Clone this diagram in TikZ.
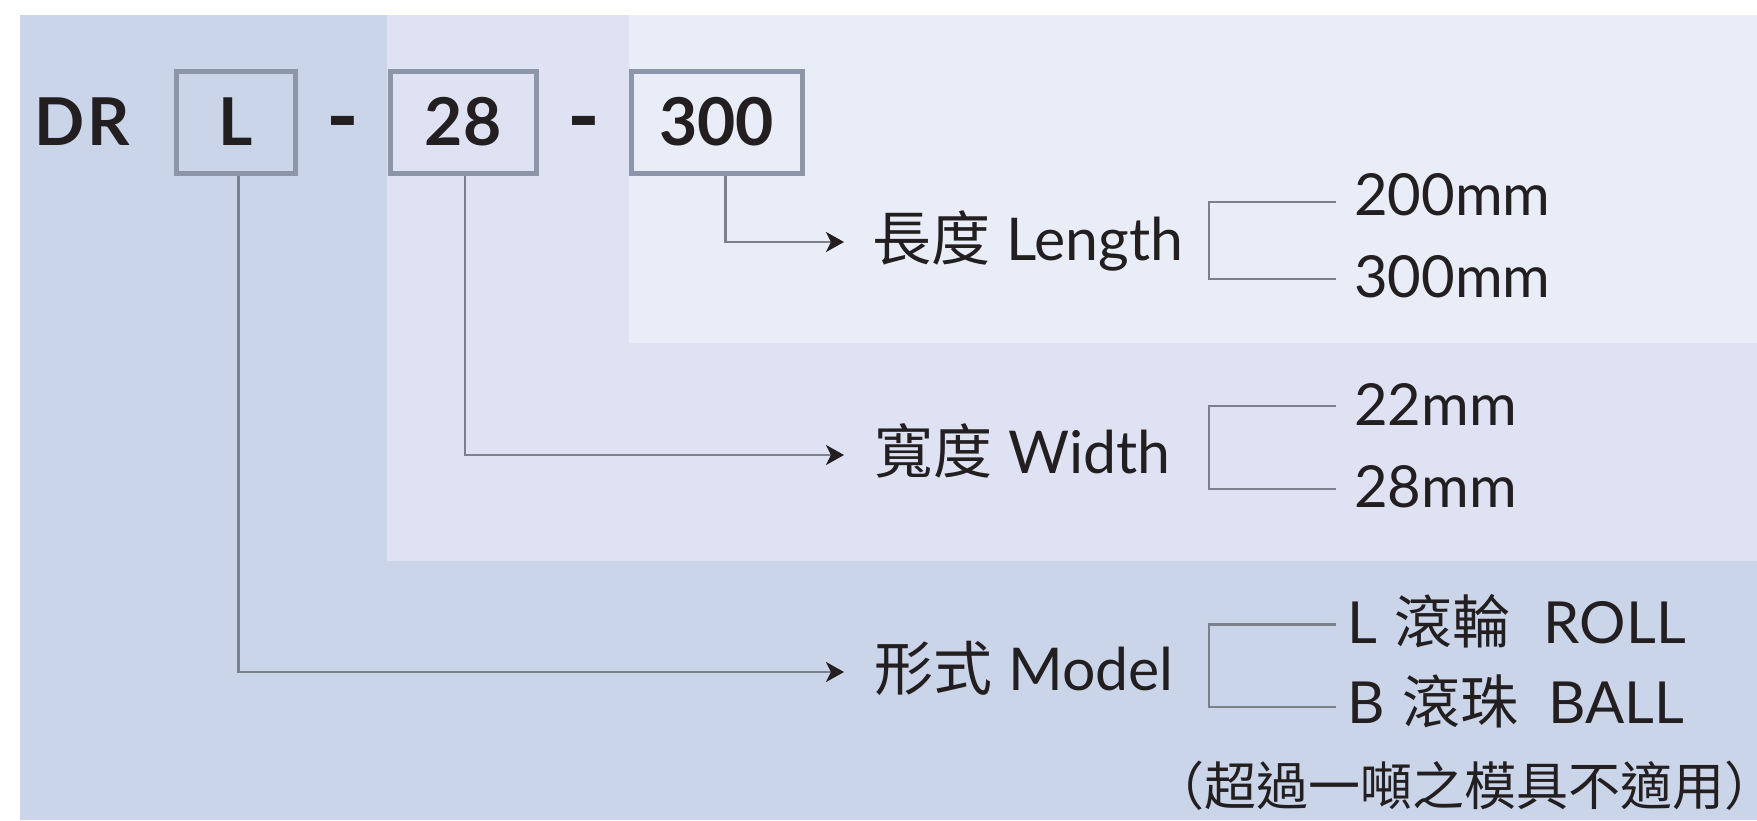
\documentclass[tikz,border=0pt]{standalone}
\usepackage{fontspec}
\setmainfont{Lato}
\newfontfamily\cjk{Noto Sans CJK TC}
\usepackage{xcolor}
\usepackage{tikz}
\usetikzlibrary{arrows.meta,positioning,calc}

\definecolor{bgouter}{HTML}{CAD5E9}
\definecolor{bgmiddle}{HTML}{DEE2F2}
\definecolor{bginner}{HTML}{E9EDF8}
\definecolor{boxgray}{HTML}{8C96A8}
\definecolor{linkgray}{HTML}{7B808D}
\definecolor{inkblack}{HTML}{231F20}

\begin{document}
\begin{tikzpicture}[
    x=1pt, y=-1pt,
    node distance=90pt,
    codebox/.style={rectangle, draw=boxgray, line width=5pt, inner sep=0pt, minimum height=102pt, text=inkblack, font=\fontsize{66}{70}\selectfont\bfseries},
    codetext/.style={inner sep=0pt, anchor=base west, text=inkblack, font=\fontsize{66}{70}\selectfont\bfseries},
    dashmark/.style={inner sep=0pt, anchor=base, text=inkblack, font=\fontsize{88}{92}\selectfont\bfseries},
    itemlabel/.style={inner sep=0pt, anchor=base west, text=inkblack, text height=48pt, text depth=12pt, font=\fontsize{59}{64}\selectfont},
    optlabel/.style={inner sep=0pt, anchor=base west, text=inkblack, font=\fontsize{58}{62}\selectfont},
    arrow/.style={-{Stealth[length=18pt, width=20pt, inset=5pt, color=inkblack]}, line width=2.5pt, draw=linkgray},
    bracket/.style={line width=2.5pt, draw=linkgray}
]
    \useasboundingbox (0,0) rectangle (1757,820);

    % background bands
    \fill [white] (0,0) rectangle (1757,820);
    \fill [bgouter] (20,15) rectangle (1757,820);
    \fill [bgmiddle] (387,15) rectangle (1757,561);
    \fill [bginner] (629,15) rectangle (1757,343);

    % code
    \node [codetext] (dr) at (34,145) {D\kern3pt R};
    \node [codebox, minimum width=119pt] (bL) at (235.5,122) {L};
    \node [codebox, minimum width=146pt, right=of bL] (b28) {28};
    \node [codebox, minimum width=171pt, right=of b28] (b300) {300};
    \node [dashmark] (d1) at (342.5,147) {-};
    \node [dashmark] (d2) at (584,147) {-};

    % items
    \node [itemlabel] (lenlbl) at (872,260) {{\cjk 長度}\hspace{16pt}Length};
    \node [itemlabel] (widlbl) at (874,473) {{\cjk 寬度}\hspace{16pt}Width};
    \node [itemlabel] (modlbl) at (874,690) {{\cjk 形式}\hspace{16pt}Model};

    % options
    \node [optlabel] (o200) at (1354,215) {200mm};
    \node [optlabel] (o300) at (1354,297) {300mm};
    \node [optlabel] (o22) at (1354,425) {22mm};
    \node [optlabel] (o28) at (1354,507) {28mm};
    \node [optlabel] (oroll) at (1347,643) {L\hspace{18pt}{\cjk 滾輪}\hspace{33pt}ROLL};
    \node [optlabel] (oball) at (1347,723) {B\hspace{18pt}{\cjk 滾珠}\hspace{30pt}BALL};
    \node [optlabel] (note) at (1152,805) {\fontsize{52}{56}\selectfont\cjk （超過一噸之模具不適用）\hspace{-0.55em}};

    \draw [arrow] ([xshift=9pt]b300.south) |- ([xshift=-28pt]lenlbl.west);
    \draw [arrow] ([xshift=2pt]b28.south) |- ([xshift=-30pt]widlbl.west);
    \draw [arrow] ([xshift=3pt]bL.south) |- ([xshift=-30pt]modlbl.west);

    \draw [bracket] ([xshift=-18pt,yshift=-8pt]o200.west) -| ([xshift=-145pt,yshift=-3pt]o300.west) -- ([xshift=-18pt,yshift=-3pt]o300.west);
    \draw [bracket] ([xshift=-18pt,yshift=-2pt]o22.west) -| ([xshift=-145pt,yshift=-3pt]o28.west) -- ([xshift=-18pt,yshift=-3pt]o28.west);
    \draw [bracket] ([xshift=-11pt,yshift=-4pt]oroll.west) -| ([xshift=-138pt,yshift=-6pt]oball.west) -- ([xshift=-11pt,yshift=-6pt]oball.west);
\end{tikzpicture}
\end{document}
